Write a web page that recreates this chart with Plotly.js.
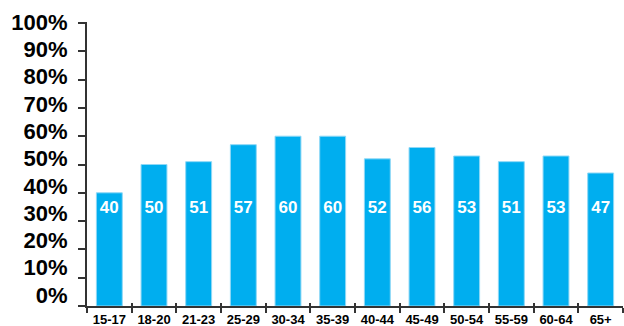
<!DOCTYPE html>
<html>
<head>
<meta charset="utf-8">
<script src="https://cdn.plot.ly/plotly-3.0.1.min.js"></script>
<style>html,body{margin:0;padding:0;background:#fff;}#chart{width:624px;height:326px;}</style>
</head>
<body>
<div id="chart"></div>
<script>
const categories = ['15-17','18-20','21-23','25-29','30-34','35-39','40-44','45-49','50-54','55-59','60-64','65+'];
const values = [40,50,51,57,60,60,52,56,53,51,53,47];
const yTickValues = [0,10,20,30,40,50,60,70,80,90,100];
const yTickLabels = ['0%','10%','20%','30%','40%','50%','60%','70%','80%','90%','100%'];

const FONT = 'Liberation Sans, Arial, sans-serif';
const labelLevel = 34.5;

const traces = [
  {
    type: 'bar', x: categories, y: values, xaxis: 'x', yaxis: 'y',
    marker: {color: '#00aeef', line: {color: '#8fd8f6', width: 1}},
    hoverinfo: 'skip'
  },
  {
    type: 'scatter', mode: 'text', x: categories, xaxis: 'x', yaxis: 'y',
    y: categories.map(() => labelLevel),
    text: values.map(String),
    textfont: {family: FONT, size: 17, color: '#ffffff', weight: 'bold'},
    cliponaxis: false, hoverinfo: 'skip'
  },
  {
    type: 'scatter', mode: 'markers', x: [0], y: [0], xaxis: 'x2', yaxis: 'y2',
    marker: {opacity: 0}, hoverinfo: 'skip'
  }
];

const boundaryTicks = categories.map((c, i) => i - 0.5).concat([categories.length - 0.5]);

const layout = {
  width: 624, height: 326,
  margin: {l: 87, r: 1, t: 22, b: 20, pad: 0},
  paper_bgcolor: '#ffffff', plot_bgcolor: 'rgba(0,0,0,0)',
  showlegend: false,
  bargap: 0.42,
  font: {family: FONT, color: '#000000'},
  xaxis: {
    type: 'category', range: [-0.5, 11.5], anchor: 'y', domain: [0, 1],
    showline: true, linecolor: '#333333', linewidth: 2,
    ticks: 'outside', tickson: 'boundaries', ticklen: 5, tickwidth: 2, tickcolor: '#333333',
    tickfont: {family: FONT, size: 13, color: '#000000', weight: 'bold'},
    showgrid: false, zeroline: false, fixedrange: true
  },
  yaxis: {
    range: [0, 100.35], anchor: 'x', domain: [0, 1],
    tickvals: yTickValues, showticklabels: false,
    showline: true, linecolor: '#333333', linewidth: 2,
    ticks: 'outside', ticklen: 7, tickwidth: 2, tickcolor: '#333333',
    showgrid: false, zeroline: false, fixedrange: true
  },
  xaxis2: {
    domain: [0, 1], anchor: 'free', position: 0, range: [-0.5, 11.5],
    tickvals: boundaryTicks, ticks: 'inside', ticklen: 3, tickwidth: 2, tickcolor: '#333333',
    showticklabels: false, showline: false, showgrid: false, zeroline: false
  },
  yaxis2: {
    domain: [11/284, 1], anchor: 'x2', range: [0, 100],
    tickvals: yTickValues, ticktext: yTickLabels,
    ticks: 'outside', ticklen: 7, tickcolor: 'rgba(0,0,0,0)',
    ticklabelstandoff: 7,
    tickfont: {family: FONT, size: 22, color: '#000000', weight: 'bold'},
    showline: false, showgrid: false, zeroline: false
  }
};

Plotly.newPlot('chart', traces, layout, {staticPlot: true, displayModeBar: false});
</script>
</body>
</html>
